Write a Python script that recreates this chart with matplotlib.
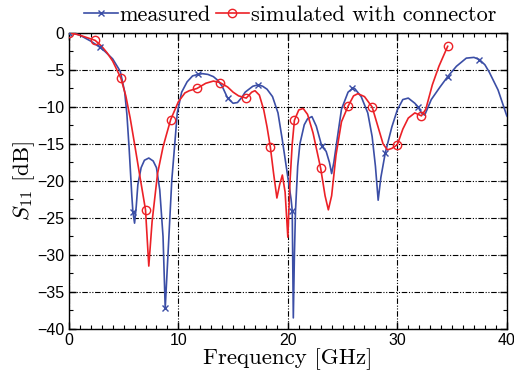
import matplotlib
matplotlib.use('Agg')
import matplotlib.pyplot as plt
from matplotlib.ticker import MultipleLocator

# measured S11
meas_f = [0, 0.5, 1.0, 1.5, 2.0, 2.8, 3.3, 4.0, 4.7, 5.1, 5.3, 5.5, 5.75, 5.85, 6.0,
          6.15, 6.3, 6.6, 6.9, 7.3, 7.7, 8.0, 8.3, 8.6, 8.8, 9.05, 9.4, 9.7, 9.9,
          10.3, 10.8, 11.3, 11.8, 12.2, 12.7, 13.2, 13.6, 14.0, 14.5, 15.0, 15.4,
          15.8, 16.1, 16.8, 17.3, 17.7, 18.1, 18.6, 19.1, 19.5, 19.9, 20.1, 20.3,
          20.4, 20.5, 20.6, 20.7, 20.9, 21.1, 21.5, 21.8, 22.2, 22.6, 23.1, 23.5,
          23.8, 24.0, 24.2, 24.5, 24.9, 25.5, 25.9, 26.1, 26.7, 27.3, 27.7, 28.0,
          28.25, 28.5, 28.9, 29.5, 30.0, 30.5, 31.0, 31.6, 31.9, 32.2, 32.5, 33.1,
          33.9, 34.6, 35.4, 36.3, 37.0, 37.5, 38.0, 38.4, 39.2, 40.0]
meas_db = [0, -0.05, -0.3, -0.7, -1.1, -1.9, -2.5, -3.5, -5.2, -8.0, -11.0, -15.5,
           -22.0, -24.2, -25.7, -23.5, -20.5, -18.2, -17.2, -16.9, -17.3, -18.2,
           -21.2, -27.5, -37.2, -30.0, -19.9, -14.5, -10.8, -8.0, -6.6, -5.8, -5.6,
           -5.5, -5.6, -5.9, -6.4, -7.2, -8.8, -9.5, -9.4, -8.7, -8.0, -7.2, -7.0,
           -7.2, -7.6, -8.6, -10.8, -14.5, -18.5, -20.5, -22.5, -24.0, -38.5, -30.0,
           -24.0, -18.0, -15.0, -12.4, -11.6, -11.3, -12.6, -15.3, -16.0, -17.5,
           -19.0, -17.5, -14.4, -10.3, -8.0, -7.5, -7.5, -8.6, -10.8, -14.0, -18.0,
           -22.6, -19.5, -16.2, -12.7, -10.4, -9.0, -8.8, -9.5, -10.0, -10.8, -11.1,
           -9.0, -7.3, -5.9, -4.5, -3.4, -3.3, -3.6, -4.3, -5.3, -7.7, -11.2]
meas_mark_f = [0, 2.8, 5.85, 8.8, 11.8, 14.5, 17.3, 20.4, 23.1, 25.9, 28.9, 31.9, 34.6, 37.5]
meas_mark_db = [0, -1.9, -24.2, -37.2, -5.6, -8.8, -7.0, -24.0, -15.3, -7.5, -16.2, -10.0, -5.9, -3.6]

# simulated with connector
sim_f = [0, 0.5, 1.0, 1.5, 2.4, 3.0, 3.5, 4.0, 4.75, 5.2, 5.6, 6.0, 6.5, 7.0, 7.3,
         7.6, 8.1, 8.6, 8.9, 9.3, 10.0, 10.6, 11.0, 11.7, 12.5, 13.2, 13.8, 14.5,
         15.0, 15.5, 16.2, 16.7, 17.0, 17.4, 17.8, 18.1, 18.4, 18.7, 19.0, 19.25,
         19.5, 19.75, 20.0, 20.2, 20.4, 20.6, 21.0, 21.4, 21.8, 22.3, 23.0, 23.4,
         23.7, 24.0, 24.4, 24.9, 25.5, 26.0, 26.4, 27.0, 27.7, 28.2, 28.7, 29.1,
         29.5, 30.0, 30.5, 31.0, 31.6, 32.2, 32.6, 33.2, 33.8, 34.6]
sim_db = [0, -0.1, -0.3, -0.55, -1.0, -1.8, -2.7, -3.8, -6.1, -8.5, -11.5, -15.0,
          -19.5, -23.9, -31.5, -25.5, -19.0, -15.4, -13.8, -11.7, -9.3, -8.1, -7.8,
          -7.5, -6.8, -6.5, -6.7, -7.3, -8.0, -8.5, -8.8, -8.0, -7.8, -8.4, -10.4,
          -12.7, -15.4, -19.0, -22.3, -20.5, -19.2, -21.5, -27.6, -20.0, -15.0,
          -11.8, -10.4, -10.2, -11.0, -13.5, -18.3, -22.0, -23.9, -22.0, -16.5,
          -12.0, -9.9, -8.5, -8.2, -8.6, -10.0, -12.5, -15.0, -15.8, -15.6, -15.1,
          -13.0, -11.5, -10.8, -11.2, -10.3, -7.0, -4.5, -1.8]
sim_mark_f = [0, 2.4, 4.75, 7.0, 9.3, 11.7, 13.8, 16.2, 18.4, 20.6, 23.0, 25.5, 27.7, 30.0, 32.2, 34.6]
sim_mark_db = [0, -1.0, -6.1, -23.9, -11.7, -7.5, -6.7, -8.8, -15.4, -11.8, -18.3, -9.9, -10.0, -15.1, -11.2, -1.8]

# tick labels in a Helvetica-like sans, the rest in Computer Modern
plt.rcParams['font.family'] = ['Liberation Sans', 'DejaVu Sans']
plt.rcParams['mathtext.fontset'] = 'cm'
plt.rcParams['axes.unicode_minus'] = True
serif = ['cmr10', 'DejaVu Serif']

blue = '#3b4ea6'
red = '#ec2127'

fig = plt.figure(figsize=(5.14, 3.79), dpi=100)
ax = fig.add_axes([0.134, 0.132, 0.852, 0.781])

ax.plot(meas_f, meas_db, color=blue, lw=1.2, zorder=3)
ax.plot(meas_mark_f, meas_mark_db, ls='none', marker='x', ms=4, mew=1.0, color=blue, zorder=4)
ax.plot(sim_f, sim_db, color=red, lw=1.2, zorder=3)
ax.plot(sim_mark_f, sim_mark_db, ls='none', marker='o', ms=6, mew=1.0, mfc='none', mec=red, zorder=4)

# legend handles
h1, = ax.plot([], [], color=blue, lw=1.2, marker='x', ms=4, mew=1.0)
h2, = ax.plot([], [], color=red, lw=1.2, marker='o', ms=6, mfc='none', mew=1.0)
fig.legend([h1, h2], ['measured', 'simulated with connector'], loc='center',
           bbox_to_anchor=(0.565, 0.96), ncol=2, frameon=False,
           prop={'family': serif, 'size': 16},
           handlelength=1.5, handletextpad=0.1, columnspacing=0.2, borderaxespad=0)

ax.set_xlim(0, 40)
ax.set_ylim(-40, 0)
ax.xaxis.set_major_locator(MultipleLocator(10))
ax.xaxis.set_minor_locator(MultipleLocator(1))
ax.yaxis.set_major_locator(MultipleLocator(5))
ax.yaxis.set_minor_locator(MultipleLocator(2.5))
ax.tick_params(which='both', direction='in', top=True, right=True, labelsize=11.5, pad=3)
ax.tick_params(which='major', length=5, width=1)
ax.tick_params(which='minor', length=3, width=0.8)
ax.grid(True, which='major', color='black', lw=0.8, dashes=(5, 1.5, 1, 1.5, 1, 1.5))
for s in ax.spines.values():
    s.set_linewidth(1.0)

ax.set_xlabel('Frequency [GHz]', fontsize=16.5, family=serif, labelpad=0)
ax.set_ylabel('$S_{11}$ [dB]', fontsize=16.5, family=serif, labelpad=0)

plt.savefig('out.png', dpi=100)
